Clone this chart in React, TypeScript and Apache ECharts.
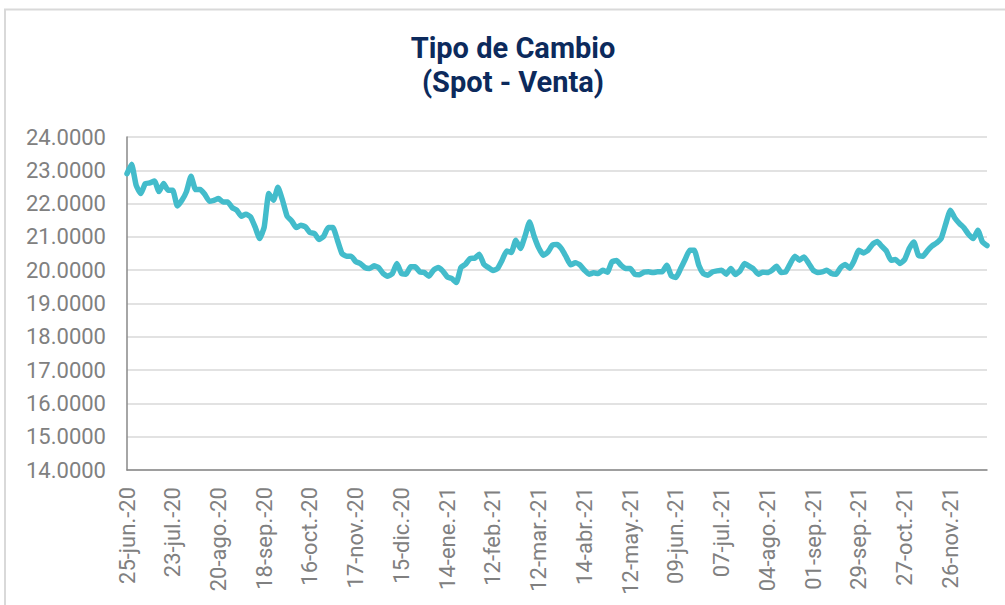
import React, { useEffect, useRef } from "react";
import * as echarts from "echarts";

const titleLines = ["Tipo de Cambio", "(Spot - Venta)"];

// Tick labels every 20 business days (every 10th sampled point)
const tickLabels = [
  "25-jun.-20", "23-jul.-20", "20-ago.-20", "18-sep.-20", "16-oct.-20",
  "17-nov.-20", "15-dic.-20", "14-ene.-21", "12-feb.-21", "12-mar.-21",
  "14-abr.-21", "12-may.-21", "09-jun.-21", "07-jul.-21", "04-ago.-21",
  "01-sep.-21", "29-sep.-21", "27-oct.-21", "26-nov.-21",
];

// Exchange rate read every 2 business days
const spotVenta = [
  22.9, 23.18, 22.55, 22.3, 22.6, 22.62, 22.68, 22.36, 22.6, 22.4,
  22.4, 21.93, 22.1, 22.36, 22.82, 22.42, 22.42, 22.28, 22.07, 22.1,
  22.15, 22.05, 22.05, 21.88, 21.8, 21.62, 21.68, 21.6, 21.3, 20.95,
  21.3, 22.3, 22.1, 22.49, 22.1, 21.62, 21.48, 21.28, 21.35, 21.3,
  21.13, 21.1, 20.92, 21.02, 21.28, 21.28, 20.9, 20.5, 20.42, 20.42,
  20.26, 20.2, 20.08, 20.05, 20.13, 20.08, 19.9, 19.82, 19.9, 20.2,
  19.9, 19.88, 20.1, 20.1, 19.95, 19.93, 19.82, 20.0, 20.08, 19.98,
  19.8, 19.75, 19.63, 20.08, 20.18, 20.35, 20.36, 20.48, 20.18, 20.08,
  19.99, 20.05, 20.3, 20.58, 20.53, 20.9, 20.65, 21.02, 21.45, 21.02,
  20.67, 20.45, 20.54, 20.75, 20.77, 20.64, 20.4, 20.16, 20.22, 20.16,
  20.0, 19.88, 19.92, 19.9, 20.0, 19.94, 20.25, 20.29, 20.15, 20.05,
  20.05, 19.88, 19.86, 19.94, 19.95, 19.93, 19.95, 19.95, 20.15, 19.83,
  19.78, 20.04, 20.32, 20.6, 20.6, 20.15, 19.9, 19.85, 19.95, 19.98,
  20.0, 19.88, 20.05, 19.87, 19.98, 20.2, 20.12, 20.03, 19.88, 19.94,
  19.93, 20.0, 20.12, 19.93, 19.95, 20.2, 20.42, 20.3, 20.4, 20.21,
  20.0, 19.93, 19.95, 20.0, 19.9, 19.88, 20.08, 20.17, 20.06, 20.3,
  20.6, 20.52, 20.6, 20.78, 20.86, 20.72, 20.58, 20.3, 20.32, 20.2,
  20.32, 20.65, 20.85, 20.45, 20.42, 20.59, 20.73, 20.82, 20.96, 21.4,
  21.8, 21.56, 21.4, 21.27, 21.07, 20.95, 21.2, 20.85, 20.74,
];

const yMin = 14;
const yMax = 24;
const yStep = 1;
const labelEvery = 10;

export default function App() {
  const ref = useRef<HTMLDivElement>(null);

  useEffect(() => {
    if (!ref.current) return;
    const chart = echarts.init(ref.current, null, { renderer: "svg" });
    const categories = spotVenta.map((_, k) =>
      k % labelEvery === 0 && tickLabels[k / labelEvery] ? tickLabels[k / labelEvery] : ""
    );
    chart.setOption({
      animation: false,
      backgroundColor: "#ffffff",
      graphic: [
        {
          type: "rect",
          shape: { x: 5, y: 9.5, width: 1010, height: 600 },
          style: { fill: "none", stroke: "#d9d9d9", lineWidth: 2 },
          silent: true,
        },
        {
          type: "text",
          x: 513,
          y: 31,
          silent: true,
          style: {
            text: titleLines.join("\n"),
            fontFamily: "Roboto",
            fontWeight: "bold",
            fontSize: 29,
            lineHeight: 34,
            fill: "#0c2a5c",
            align: "center",
            verticalAlign: "top",
          },
        },
      ],
      grid: { left: 127, right: 18, top: 137, bottom: 135 },
      xAxis: {
        type: "category",
        data: categories,
        boundaryGap: false,
        axisLine: { show: true, lineStyle: { color: "#888888", width: 1.5 } },
        axisTick: { show: false },
        axisLabel: {
          interval: labelEvery - 1,
          rotate: 90,
          margin: 17,
          fontFamily: "Roboto",
          fontSize: 22,
          color: "#808080",
        },
        splitLine: { show: false },
      },
      yAxis: {
        type: "value",
        min: yMin,
        max: yMax,
        interval: yStep,
        axisLine: { show: true, lineStyle: { color: "#888888", width: 1.5 } },
        axisTick: { show: false },
        axisLabel: {
          margin: 21,
          fontFamily: "Roboto",
          fontSize: 22,
          color: "#808080",
          formatter: (v: number) => v.toFixed(4),
        },
        splitLine: { show: true, lineStyle: { color: "#d9d9d9", width: 1.5 } },
      },
      series: [
        {
          type: "line",
          data: spotVenta,
          showSymbol: false,
          smooth: 0.15,
          lineStyle: { color: "#43bccb", width: 5.5, join: "round", cap: "round" },
        },
      ],
    });
    return () => chart.dispose();
  }, []);

  return (
    <div
      ref={ref}
      style={{ position: "fixed", left: 0, top: 0, width: 1005, height: 605 }}
    />
  );
}
